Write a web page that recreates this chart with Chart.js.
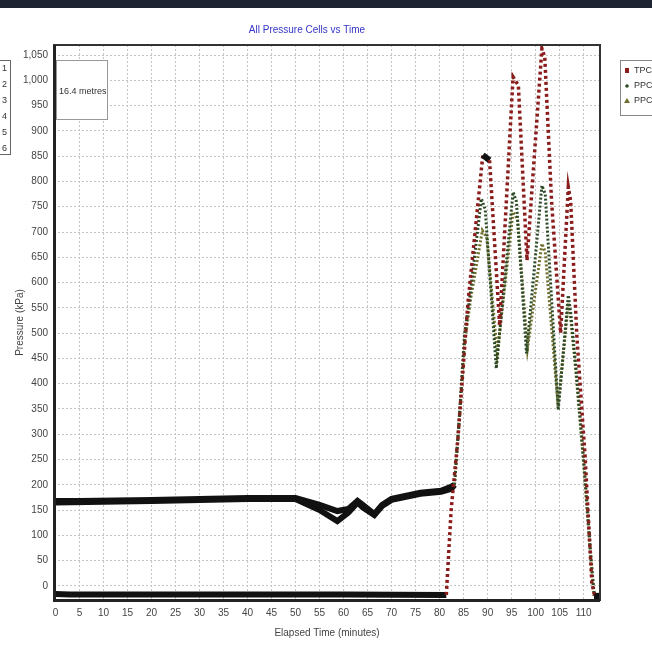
<!DOCTYPE html>
<html>
<head>
<meta charset="utf-8">
<script src="https://cdn.jsdelivr.net/npm/chart.js@4/dist/chart.umd.min.js"></script>
<style>
  body { margin: 0; background: #fff; }
  canvas { display: block; }
</style>
</head>
<body>
<canvas id="myChart" width="652" height="645"></canvas>
<script>
const seriesNames = ["TPC", "PPC", "PPC"];
const sideNumbers = ["1", "2", "3", "4", "5", "6"];
const insetText = "16.4 metres";

const xTicks = [0, 5, 10, 15, 20, 25, 30, 35, 40, 45, 50, 55, 60, 65, 70, 75, 80, 85, 90, 95, 100, 105, 110];
const yTicks = [0, 50, 100, 150, 200, 250, 300, 350, 400, 450, 500, 550, 600, 650, 700, 750, 800, 850, 900, 950, 1000, 1050];

// TPC (squares)
const tpcTime = [0, 3, 30, 60, 81.4, 82.4, 83.8, 85.9, 89.0, 90.4, 92.5, 95.3, 96.4, 98.2, 101.3, 101.9, 103.3, 105.2, 106.8, 107.3, 108.6, 110.3, 111.7, 112.3, 113.3];
const tpcValues = [-16, -17, -17, -17, -18, 150, 290, 560, 852, 842, 515, 1007, 990, 644, 1063, 1046, 763, 500, 789, 760, 490, 255, 6, -20, -20];

// PPC (dots)
const ppcTime = [0, 5, 20, 40, 50, 55, 58.7, 61, 62.9, 64, 66.4, 68, 70, 76, 80.3, 82.4, 83.1, 84.2, 85.2, 86.2, 88.7, 89.5, 91.8, 95.3, 96, 98.1, 101.3, 102, 104.7, 106.8, 107.3, 108.5, 110, 111.5, 112.2, 113.3];
const ppcValues = [168, 168, 170, 174, 174, 160, 148, 152, 168, 160, 142, 160, 172, 184, 188, 196, 200, 348, 500, 565, 766, 745, 430, 779, 760, 460, 792, 775, 348, 575, 540, 420, 250, 60, -20, -20];

// PPC (triangles)
const ppc2Time = [0, 20, 40, 50, 55, 58.7, 61, 62.9, 64, 66.4, 68, 70, 76, 80.3, 82.4, 83.1, 84.2, 85.2, 86.5, 88.9, 89.8, 92, 95.3, 96.2, 98.3, 101.3, 102, 104.7, 106.8, 107.3, 108.5, 110, 111.5, 112.2, 113.3];
const ppc2Values = [165, 168, 172, 172, 150, 128, 145, 165, 155, 140, 158, 170, 182, 186, 192, 200, 340, 480, 570, 703, 690, 460, 740, 725, 470, 677, 660, 355, 560, 530, 410, 240, 50, -20, -20];

const colors = ["#8b1c1c", "#2c4a26", "#6e6e2a"];
const narrow = "'Liberation Sans Narrow', 'Liberation Sans', sans-serif";

function toPoints(times, values) {
  return times.map((t, i) => ({ x: t, y: values[i] }));
}

function steep(ctx) {
  const dx = Math.abs(ctx.p1.x - ctx.p0.x);
  const dy = Math.abs(ctx.p1.y - ctx.p0.y);
  return dy > dx * 1.5;
}

function makeDataset(label, times, values, color, width, dash) {
  return {
    label: label,
    data: toPoints(times, values),
    borderColor: color,
    pointRadius: 0,
    tension: 0,
    borderWidth: width,
    segment: {
      borderColor: ctx => (steep(ctx) ? color : "#111"),
      borderDash: ctx => (steep(ctx) ? dash : []),
      borderWidth: ctx => (steep(ctx) ? width : 6),
    },
  };
}

const decorations = {
  id: "decorations",
  beforeDraw(chart) {
    const c = chart.ctx;
    c.save();
    c.fillStyle = "#fff";
    c.fillRect(0, 0, chart.width, chart.height);
    c.fillStyle = "#1f2433";
    c.fillRect(0, 0, chart.width, 8);
    c.restore();
  },
  afterDraw(chart) {
    const c = chart.ctx;
    const a = chart.chartArea;
    c.save();
    // plot frame
    c.strokeStyle = "#333";
    c.lineWidth = 2;
    c.strokeRect(a.left, a.top, a.right - a.left, a.bottom - a.top);
    c.fillStyle = "#222";
    c.fillRect(a.left - 1, a.top, 3, a.bottom - a.top + 1);
    c.fillRect(a.left - 1, a.bottom - 1, a.right - a.left + 1, 3);

    // inset label box
    c.lineWidth = 1;
    c.strokeStyle = "#999";
    c.fillStyle = "#fff";
    c.fillRect(56, 60, 52, 60);
    c.strokeRect(56.5, 60.5, 51, 59);
    c.fillStyle = "#333";
    c.font = "9px " + narrow;
    c.textBaseline = "middle";
    c.fillText(insetText, 59, 92);

    // left cut-off box
    c.strokeStyle = "#666";
    c.strokeRect(-10.5, 60.5, 21, 94);
    for (let i = 0; i < sideNumbers.length; i++) {
      c.fillText(sideNumbers[i], 2, 69 + i * 16);
    }

    // right legend
    c.strokeStyle = "#888";
    c.strokeRect(620.5, 60.5, 40, 55);
    const ds = chart.data.datasets;
    for (let i = 0; i < ds.length; i++) {
      const y = 71 + i * 15;
      c.fillStyle = colors[i];
      if (i === 0) {
        c.fillRect(625, y - 3, 4, 5);
      } else if (i === 1) {
        c.beginPath();
        c.arc(627, y, 1.8, 0, Math.PI * 2);
        c.fill();
      } else {
        c.beginPath();
        c.moveTo(627, y - 3);
        c.lineTo(630, y + 2);
        c.lineTo(624, y + 2);
        c.closePath();
        c.fill();
      }
      c.fillStyle = "#333";
      c.fillText(ds[i].label, 634, y);
    }
    c.restore();
  },
};

const ctx = document.getElementById("myChart");

new Chart(ctx, {
  type: "line",
  data: {
    datasets: [
      makeDataset(seriesNames[0], tpcTime, tpcValues, colors[0], 3.5, [3, 3]),
      makeDataset(seriesNames[1], ppcTime, ppcValues, colors[1], 3, [2, 2]),
      makeDataset(seriesNames[2], ppc2Time, ppc2Values, colors[2], 3, [2, 2]),
    ],
  },
  options: {
    responsive: false,
    animation: false,
    layout: { padding: { left: 14, right: 52, top: 0, bottom: 0 } },
    plugins: {
      legend: { display: false },
      tooltip: { enabled: false },
      title: {
        display: true,
        text: "All Pressure Cells vs Time",
        color: "#3535c8",
        font: { family: narrow, size: 10, weight: "normal" },
        padding: { top: 24, bottom: 9 },
      },
    },
    scales: {
      x: {
        type: "linear",
        min: -0.3,
        max: 113.4,
        afterBuildTicks: scale => {
          scale.ticks = xTicks.map(v => ({ value: v }));
        },
        afterFit: scale => {
          scale.height = 45;
        },
        ticks: {
          color: "#444",
          font: { family: narrow, size: 10 },
          padding: 7,
          maxRotation: 0,
          autoSkip: false,
        },
        grid: { color: "#c4c4c4", drawTicks: false },
        border: { display: false, dash: [2, 2] },
        title: {
          display: true,
          text: "Elapsed Time (minutes)",
          color: "#444",
          font: { family: narrow, size: 10 },
          padding: { top: 0, bottom: 6 },
        },
      },
      y: {
        min: -28,
        max: 1070,
        afterBuildTicks: scale => {
          scale.ticks = yTicks.map(v => ({ value: v }));
        },
        afterFit: scale => {
          scale.width = 40;
        },
        ticks: {
          color: "#444",
          font: { family: narrow, size: 10 },
          padding: 6,
          autoSkip: false,
          callback: v => v.toLocaleString("en-US"),
        },
        grid: { color: "#c4c4c4", drawTicks: false },
        border: { display: false, dash: [2, 2] },
        title: {
          display: true,
          text: "Pressure (kPa)",
          color: "#444",
          font: { family: narrow, size: 10 },
          padding: 0,
        },
      },
    },
  },
  plugins: [decorations],
});
</script>
</body>
</html>
